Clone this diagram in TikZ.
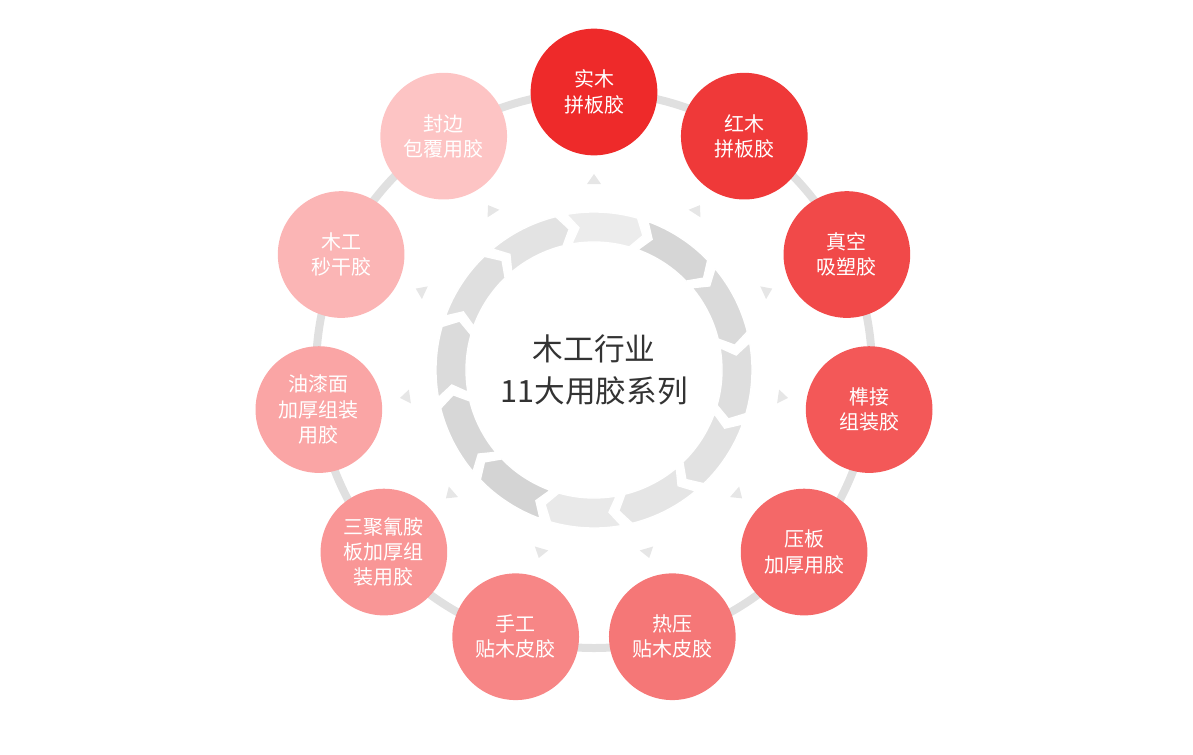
\documentclass[tikz,border=0pt]{standalone}
\usepackage{fontspec}
\usetikzlibrary{calc}
\newfontfamily\cjk{Noto Sans CJK SC}
\definecolor{redA}{RGB}{238,42,42}
\definecolor{redB}{RGB}{253,196,196}
\definecolor{ringgray}{RGB}{224,224,224}
\definecolor{textgray}{RGB}{51,51,51}
\tikzset{
  usecircle/.style={circle, minimum size=95pt, inner sep=0pt, align=center, text=white, font=\cjk\fontsize{15}{19}\selectfont},
  flowseg/.style={fill=#1, draw=white, line width=1pt},
  pointer/.style={fill=ringgray!80, draw=none}
}
\begin{document}
\begin{tikzpicture}[x=0.75pt,y=-0.75pt]
\useasboundingbox (0,0) rectangle (1193,754);
\coordinate (mid) at (594,370);

% outer ring
\draw [ringgray, line width=6pt] (mid) circle [radius=278];

% inner arrow ring
\begin{scope}[shift={(594,370)}, x=0.75pt, y=0.75pt]
\foreach \k in {0,...,11} {
  \pgfmathsetmacro{\a}{100-\k*30}
  \pgfmathsetmacro{\b}{\a-26}
  \pgfmathsetmacro{\c}{\a-30}
  \pgfmathsetmacro{\d}{\a-4}
  \pgfmathsetmacro{\g}{15+mod(\k*17,20)}
  \fill [flowseg=gray!\g] (\a:158) arc [start angle=\a, end angle=\b, radius=158]
    -- (\c:143) -- (\b:128) arc [start angle=\b, end angle=\a, radius=128]
    -- (\d:143) -- cycle;
}
% pointers
\foreach \k in {0,...,10} {
  \pgfmathsetmacro{\a}{90-\k*360/11}
  \fill [pointer, rotate=\a] (0:196) -- ++(-10,7) -- ++(0,-14) -- cycle;
}
\end{scope}

% center text
\node [align=center, text=textgray, font=\cjk\fontsize{23}{32}\selectfont] (title) at (mid) {木工行业\\11大用胶系列};

% glue circles
\foreach \lab [count=\i from 0] in {实木\\拼板胶, 红木\\拼板胶, 真空\\吸塑胶, 榫接\\组装胶, 压板\\加厚用胶, 热压\\贴木皮胶, 手工\\贴木皮胶, 三聚氰胺\\板加厚组\\装用胶, 油漆面\\加厚组装\\用胶, 木工\\秒干胶, 封边\\包覆用胶} {
  \pgfmathsetmacro{\a}{-90+\i*360/11}
  \pgfmathsetmacro{\p}{\i*10}
  \colorlet{fillc}{redB!\p!redA}
  \node [usecircle, fill=fillc] (glue\i) at ($(mid)+(\a:278)$) {\lab};
}
\end{tikzpicture}
\end{document}
